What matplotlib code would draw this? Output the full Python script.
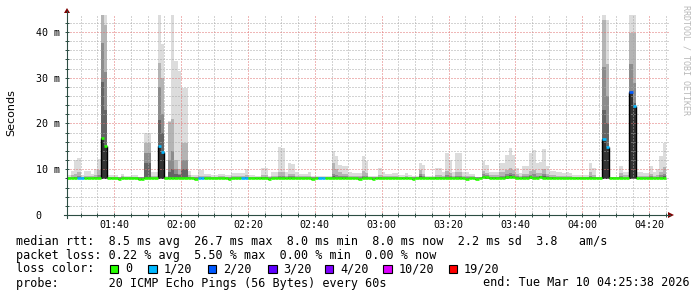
import numpy as np
import matplotlib.pyplot as plt
from matplotlib.lines import Line2D
from matplotlib.patches import Polygon, Rectangle

W, H = 697, 297

# one value per 60 s step, first step starts 01:26 (minutes after midnight)
first_step = 86
x_range = (85.9, 265.9)

# max ping of each step (ms)
smoke_top = [
    8.7, 9.6, 12.0, 12.5, 8.7, 9.6, 9.6, 9.0, 10.0, 12.2,
    43.7, 43.7, 8.7, 8.7, 8.7, 8.4, 8.9, 8.6, 8.6, 8.7,
    8.7, 8.4, 8.4, 18.0, 18.0, 9.5, 9.5, 43.7, 37.3, 8.5,
    20.5, 43.7, 33.7, 31.5, 27.8, 27.8, 9.6, 8.7, 8.7, 9.8,
    9.8, 8.9, 8.9, 8.7, 8.7, 8.9, 8.9, 8.7, 8.7, 9.1,
    9.1, 9.1, 9.1, 10.0, 8.7, 8.7, 8.6, 8.6, 10.2, 10.2,
    8.6, 9.5, 9.5, 14.9, 14.6, 9.3, 11.3, 11.2, 9.3, 8.9,
    8.9, 8.9, 9.5, 8.6, 8.6, 8.6, 8.6, 8.6, 8.6, 14.0,
    12.8, 10.9, 10.8, 10.7, 9.5, 9.1, 9.1, 9.1, 12.8, 11.9,
    8.5, 8.5, 8.5, 10.2, 9.5, 9.0, 9.0, 9.1, 9.1, 8.8,
    8.8, 9.1, 8.8, 8.6, 8.5, 11.3, 10.9, 8.5, 8.5, 8.5,
    10.2, 10.2, 9.5, 13.5, 12.0, 9.5, 13.6, 13.6, 9.3, 9.5,
    8.9, 8.9, 8.4, 8.4, 11.9, 10.9, 9.5, 9.5, 9.5, 11.4,
    11.4, 13.1, 14.6, 13.1, 10.2, 9.1, 10.6, 10.6, 13.5, 14.2,
    11.3, 11.5, 14.4, 10.8, 9.7, 9.7, 9.3, 9.3, 9.1, 9.3,
    9.1, 8.7, 8.7, 8.7, 8.7, 8.7, 11.3, 10.2, 8.4, 8.4,
    43.7, 42.6, 8.4, 8.4, 8.4, 10.6, 9.5, 9.5, 43.7, 43.7,
    9.5, 9.5, 9.1, 9.1, 10.8, 9.5, 10.0, 12.8, 15.7,
]

# upper edges of the darker smoke bands (ms)
smoke_q2 = [
    8.4, 8.7, 9.0, 9.3, 8.4, 8.6, 8.6, 8.5, 8.8, 9.8,
    43.7, 41.5, 8.4, 8.4, 8.4, 8.3, 8.5, 8.4, 8.4, 8.4,
    8.4, 8.3, 8.3, 15.7, 15.7, 8.6, 8.6, 33.2, 30.0, 8.3,
    20.3, 21.0, 12.0, 10.0, 15.8, 15.8, 8.8, 8.4, 8.4, 8.6,
    8.6, 8.5, 8.5, 8.4, 8.4, 8.5, 8.5, 8.4, 8.4, 8.6,
    8.6, 8.6, 8.6, 8.8, 8.4, 8.4, 8.4, 8.4, 8.8, 8.8,
    8.4, 8.6, 8.6, 9.5, 9.3, 8.6, 9.0, 9.0, 8.6, 8.5,
    8.5, 8.5, 8.6, 8.4, 8.4, 8.4, 8.4, 8.4, 8.4, 11.3,
    10.0, 9.3, 9.0, 9.0, 8.6, 8.5, 8.5, 8.5, 9.6, 9.2,
    8.3, 8.3, 8.3, 8.8, 8.6, 8.5, 8.5, 8.5, 8.5, 8.4,
    8.4, 8.5, 8.4, 8.4, 8.3, 9.8, 9.0, 8.3, 8.3, 8.3,
    8.8, 8.8, 8.6, 9.6, 9.2, 8.6, 9.4, 9.4, 8.6, 8.6,
    8.5, 8.5, 8.3, 8.3, 9.6, 9.2, 8.7, 8.7, 8.7, 9.3,
    9.3, 9.8, 10.2, 9.8, 8.9, 8.6, 9.0, 9.0, 9.6, 9.8,
    9.2, 9.2, 10.0, 9.0, 8.7, 8.7, 8.6, 8.6, 8.6, 8.6,
    8.6, 8.4, 8.4, 8.4, 8.4, 8.4, 9.3, 8.8, 8.3, 8.3,
    42.6, 33.0, 8.3, 8.3, 8.3, 9.2, 8.7, 8.7, 39.8, 39.8,
    8.6, 8.6, 8.5, 8.5, 9.0, 8.6, 8.8, 9.5, 10.5,
]

smoke_q3 = [
    8.2, 8.3, 8.4, 8.5, 8.2, 8.3, 8.3, 8.3, 8.4, 8.8,
    37.5, 31.3, 8.2, 8.2, 8.2, 8.2, 8.3, 8.2, 8.2, 8.2,
    8.2, 8.2, 8.2, 13.5, 13.5, 8.3, 8.3, 28.0, 22.0, 8.2,
    12.0, 14.0, 10.0, 9.0, 12.0, 12.0, 8.4, 8.2, 8.2, 8.3,
    8.3, 8.3, 8.3, 8.2, 8.2, 8.3, 8.3, 8.2, 8.2, 8.3,
    8.3, 8.3, 8.3, 8.4, 8.2, 8.2, 8.2, 8.2, 8.4, 8.4,
    8.2, 8.3, 8.3, 8.6, 8.6, 8.3, 8.5, 8.5, 8.3, 8.3,
    8.3, 8.3, 8.3, 8.2, 8.2, 8.2, 8.2, 8.2, 8.2, 9.0,
    8.8, 8.6, 8.5, 8.5, 8.3, 8.3, 8.3, 8.3, 8.6, 8.5,
    8.2, 8.2, 8.2, 8.4, 8.3, 8.3, 8.3, 8.3, 8.3, 8.2,
    8.2, 8.3, 8.2, 8.2, 8.2, 8.9, 8.5, 8.2, 8.2, 8.2,
    8.4, 8.4, 8.3, 8.7, 8.5, 8.3, 8.6, 8.6, 8.3, 8.3,
    8.3, 8.3, 8.2, 8.2, 9.0, 8.7, 8.4, 8.4, 8.4, 8.6,
    8.6, 8.9, 9.2, 8.9, 8.5, 8.3, 8.5, 8.5, 8.8, 9.0,
    8.6, 8.6, 9.0, 8.5, 8.4, 8.4, 8.3, 8.3, 8.3, 8.3,
    8.3, 8.2, 8.2, 8.2, 8.2, 8.2, 8.6, 8.4, 8.2, 8.2,
    32.4, 26.0, 8.2, 8.2, 8.2, 8.5, 8.3, 8.3, 33.0, 28.8,
    8.3, 8.3, 8.3, 8.3, 8.5, 8.3, 8.4, 8.7, 9.0,
]

smoke_q4 = [
    8.1, 8.1, 8.2, 8.2, 8.1, 8.1, 8.1, 8.1, 8.2, 8.4,
    29.1, 23.0, 8.1, 8.1, 8.1, 8.0, 8.1, 8.1, 8.1, 8.1,
    8.1, 8.0, 8.0, 11.4, 11.4, 8.1, 8.1, 20.8, 18.0, 8.1,
    9.5, 10.0, 9.0, 8.8, 10.0, 10.0, 8.2, 8.1, 8.0, 8.1,
    8.1, 8.1, 8.1, 8.1, 8.1, 8.1, 8.1, 8.1, 8.0, 8.1,
    8.1, 8.1, 8.1, 8.2, 8.1, 8.1, 8.1, 8.1, 8.2, 8.2,
    8.0, 8.1, 8.1, 8.3, 8.3, 8.1, 8.2, 8.2, 8.1, 8.1,
    8.1, 8.1, 8.1, 8.0, 8.1, 8.1, 8.1, 8.1, 8.1, 8.5,
    8.4, 8.3, 8.3, 8.3, 8.1, 8.1, 8.1, 8.0, 8.3, 8.3,
    8.1, 8.0, 8.1, 8.2, 8.1, 8.1, 8.1, 8.1, 8.1, 8.1,
    8.1, 8.1, 8.1, 8.0, 8.1, 8.5, 8.3, 8.1, 8.1, 8.1,
    8.2, 8.2, 8.1, 8.4, 8.3, 8.1, 8.3, 8.3, 8.1, 8.0,
    8.1, 8.1, 7.9, 8.1, 8.6, 8.4, 8.2, 8.2, 8.2, 8.3,
    8.3, 8.5, 8.7, 8.6, 8.3, 8.1, 8.3, 8.3, 8.5, 8.4,
    8.3, 8.5, 8.5, 8.3, 8.2, 8.2, 8.1, 8.1, 8.1, 8.1,
    8.1, 8.1, 8.1, 8.1, 8.1, 8.1, 8.4, 8.2, 8.1, 8.1,
    23.0, 20.0, 8.1, 8.1, 8.1, 8.3, 8.1, 8.1, 27.0, 24.5,
    8.1, 8.1, 8.1, 8.1, 8.3, 8.1, 8.2, 8.4, 8.6,
]

# min ping of each step (ms)
ping_min = [
    7.8, 7.8, 7.9, 7.8, 7.8, 7.8, 7.8, 7.8, 7.8, 7.9,
    7.9, 7.9, 7.8, 7.8, 7.8, 7.7, 7.8, 7.8, 7.8, 7.8,
    7.8, 7.7, 7.7, 7.9, 7.9, 7.8, 7.8, 7.9, 7.9, 7.8,
    7.8, 7.9, 7.8, 7.8, 7.8, 7.9, 7.8, 7.8, 7.7, 7.8,
    7.8, 7.8, 7.8, 7.8, 7.8, 7.8, 7.8, 7.8, 7.7, 7.8,
    7.8, 7.8, 7.8, 7.8, 7.8, 7.8, 7.8, 7.8, 7.8, 7.8,
    7.7, 7.8, 7.8, 7.9, 7.8, 7.8, 7.8, 7.8, 7.8, 7.8,
    7.8, 7.8, 7.8, 7.7, 7.8, 7.8, 7.8, 7.8, 7.8, 7.9,
    7.8, 7.8, 7.8, 7.8, 7.8, 7.8, 7.8, 7.7, 7.8, 7.8,
    7.8, 7.7, 7.8, 7.8, 7.8, 7.8, 7.8, 7.8, 7.8, 7.8,
    7.8, 7.8, 7.8, 7.7, 7.8, 7.8, 7.8, 7.8, 7.8, 7.8,
    7.8, 7.8, 7.8, 7.8, 7.8, 7.8, 7.8, 7.8, 7.8, 7.7,
    7.8, 7.8, 7.6, 7.8, 8.1, 7.9, 7.8, 7.8, 7.8, 7.8,
    7.8, 7.9, 8.1, 8.1, 7.9, 7.8, 7.8, 7.9, 7.9, 7.8,
    7.8, 8.0, 7.9, 7.8, 7.8, 7.8, 7.8, 7.8, 7.8, 7.8,
    7.8, 7.8, 7.8, 7.8, 7.8, 7.8, 7.8, 7.8, 7.8, 7.8,
    7.9, 7.9, 7.8, 7.8, 7.8, 7.8, 7.8, 7.8, 7.9, 7.9,
    7.8, 7.8, 7.8, 7.8, 7.8, 7.8, 7.8, 7.8, 7.8,
]

rtt_median = [
    8.0, 8.0, 8.1, 8.0, 8.0, 8.0, 8.0, 8.0, 8.0, 8.1,
    16.8, 15.1, 8.0, 8.0, 8.0, 7.9, 8.0, 8.0, 8.0, 8.0,
    8.0, 7.9, 7.9, 8.1, 8.1, 8.0, 8.0, 15.1, 13.7, 8.0,
    8.0, 8.1, 8.0, 8.0, 8.0, 8.1, 8.0, 8.0, 7.9, 8.0,
    8.0, 8.0, 8.0, 8.0, 8.0, 8.0, 8.0, 8.0, 7.9, 8.0,
    8.0, 8.0, 8.0, 8.0, 8.0, 8.0, 8.0, 8.0, 8.0, 8.0,
    7.9, 8.0, 8.0, 8.1, 8.0, 8.0, 8.0, 8.0, 8.0, 8.0,
    8.0, 8.0, 8.0, 7.9, 8.0, 8.0, 8.0, 8.0, 8.0, 8.1,
    8.0, 8.0, 8.0, 8.0, 8.0, 8.0, 8.0, 7.9, 8.0, 8.0,
    8.0, 7.9, 8.0, 8.0, 8.0, 8.0, 8.0, 8.0, 8.0, 8.0,
    8.0, 8.0, 8.0, 7.9, 8.0, 8.0, 8.0, 8.0, 8.0, 8.0,
    8.0, 8.0, 8.0, 8.0, 8.0, 8.0, 8.0, 8.0, 8.0, 7.9,
    8.0, 8.0, 7.8, 8.0, 8.4, 8.2, 8.0, 8.0, 8.0, 8.0,
    8.0, 8.2, 8.4, 8.4, 8.1, 8.0, 8.0, 8.1, 8.2, 8.0,
    8.0, 8.3, 8.1, 8.0, 8.0, 8.0, 8.0, 8.0, 8.0, 8.0,
    8.0, 8.0, 8.0, 8.0, 8.0, 8.0, 8.0, 8.0, 8.0, 8.0,
    16.5, 14.8, 8.0, 8.0, 8.0, 8.0, 8.0, 8.0, 26.8, 23.8,
    8.0, 8.0, 8.0, 8.0, 8.0, 8.0, 8.0, 8.0, 8.0,
]

# lost pings out of 20 per step
lost = [0] * 179
for i, v in [(3, 1), (4, 1), (27, 1), (28, 1), (39, 1), (40, 1), (52, 1), (53, 1),
             (75, 1), (76, 1), (160, 1), (161, 1), (168, 2), (169, 1)]:
    lost[i] = v

loss_levels = [0, 1, 2, 3, 4, 10, 19]
loss_labels = ['0', '1/20', '2/20', '3/20', '4/20', '10/20', '19/20']
loss_colors = ['#26ff00', '#00b8ff', '#0059ff', '#5e00ff', '#7e00ff', '#dd00ff', '#ff0000']

legend_lines = [
    'median rtt:  8.5 ms avg  26.7 ms max  8.0 ms min  8.0 ms now  2.2 ms sd  3.8   am/s',
    'packet loss: 0.22 % avg  5.50 % max  0.00 % min  0.00 % now',
]
probe_text = 'probe:       20 ICMP Echo Pings (56 Bytes) every 60s'
end_text = 'end: Tue Mar 10 04:25:38 2026'

MONO = 'DejaVu Sans Mono'
AXIS = '#2c4d43'
ARROW = '#7f0000'


def fx(px):
    return px / W


def fy(py):
    return 1 - py / H


fig = plt.figure(figsize=(W / 100, H / 100), dpi=100)
fig.patch.set_facecolor('white')
ax = fig.add_axes([fx(67), fy(215), 602 / W, 200 / H])

n = len(smoke_top)
edges = first_step + np.arange(n + 1)

# smoke, light to dark
bands = [(smoke_top, '#dcdcdc'), (smoke_q2, '#b4b4b4'),
         (smoke_q3, '#8c8c8c'), (smoke_q4, '#646464'), (rtt_median, '#333333')]
for k, (vals, col) in enumerate(bands):
    ax.stairs(vals, edges, baseline=ping_min, fill=True, color=col, lw=0, zorder=1 + 0.1 * k)

# black edges where the median jumps
med = np.array(rtt_median)
for k in range(1, n):
    if abs(med[k] - med[k - 1]) > 3:
        ax.vlines(edges[k], min(med[k], med[k - 1]), max(med[k], med[k - 1]),
                  color='black', lw=1.0, zorder=3)

col_of = dict(zip(loss_levels, loss_colors))
ax.hlines(rtt_median, edges[:-1], edges[1:], colors=[col_of[v] for v in lost],
          lw=1.9, zorder=4)

ax.set_xlim(*x_range)
ax.set_ylim(0, 43.7)
ax.set_xticks(np.arange(100, 261, 20))
ax.set_xticks(np.arange(90, 266, 5), minor=True)
ax.set_xticklabels([f'{m // 60:02d}:{m % 60:02d}' for m in range(100, 261, 20)])
ax.set_yticks([0, 10, 20, 30, 40])
ax.set_yticks(np.arange(2, 44, 2), minor=True)
ax.set_yticklabels(['0   ', '10 m', '20 m', '30 m', '40 m'])
ax.set_axisbelow(False)
ax.grid(which='major', color='#e07070', ls=(0, (1, 2)), lw=0.72)
ax.grid(which='minor', color='#a8a8a8', ls=(0, (1, 2)), lw=0.72)
ax.tick_params(which='both', direction='inout', color=AXIS, width=0.7,
               labelsize=7.2, labelfontfamily=MONO)
ax.tick_params(which='major', length=3.5)
ax.tick_params(which='minor', length=2.5)
ax.tick_params(axis='x', pad=2)
ax.tick_params(axis='y', pad=3.2)
for s in ax.spines.values():
    s.set_visible(False)

# axes with arrows
fig.add_artist(Line2D([fx(67), fx(67)], [fy(218), fy(11)], color=AXIS, lw=0.8))
fig.add_artist(Line2D([fx(64), fx(670)], [fy(215), fy(215)], color=AXIS, lw=0.8))
fig.add_artist(Polygon([(fx(64), fy(13)), (fx(70), fy(13)), (fx(67), fy(8))],
                       closed=True, color=ARROW, lw=0))
fig.add_artist(Polygon([(fx(668), fy(212)), (fx(668), fy(218)), (fx(674), fy(215))],
                       closed=True, color=ARROW, lw=0))

fig.text(fx(11), fy(113), 'Seconds', rotation=90, ha='center', va='center',
         fontsize=8, family='DejaVu Sans')
fig.text(fx(686), fy(5), 'RRDTOOL / TOBI OETIKER', rotation=270, ha='center', va='top',
         fontsize=6, family=MONO, color='#b8b8b8')

fig.text(fx(16), fy(241), legend_lines[0], family=MONO, fontsize=8.5, va='center')
fig.text(fx(16), fy(255), legend_lines[1], family=MONO, fontsize=8.5, va='center')
fig.text(fx(16), fy(269), 'loss color:', family=MONO, fontsize=8.5, va='center')
box_x = [109.6, 148.0, 207.5, 268.4, 324.8, 383.4, 448.8]
for bx, col, lab in zip(box_x, loss_colors, loss_labels):
    fig.add_artist(Rectangle((fx(bx), fy(273.3)), 8.6 / W, 8.6 / H, facecolor=col,
                             edgecolor='black', lw=0.8))
    fig.text(fx(bx + 15.2), fy(269), lab, family=MONO, fontsize=8.5, va='center')
fig.text(fx(16), fy(283), probe_text, family=MONO, fontsize=8.5, va='center')
fig.text(fx(690), fy(283), end_text, family=MONO, fontsize=8.5, va='center', ha='right')

fig.savefig('out.png', dpi=100)
